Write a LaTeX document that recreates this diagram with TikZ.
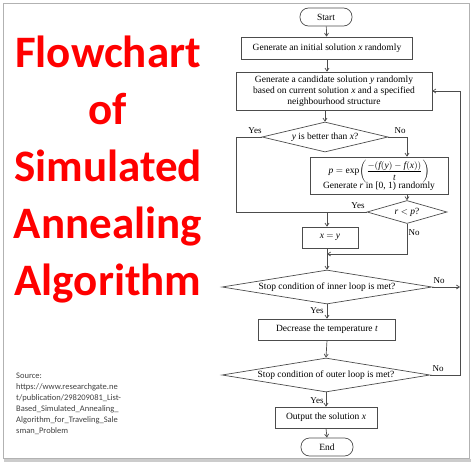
\documentclass[tikz,border=0pt]{standalone}
\usepackage{amsmath,amssymb}
\usepackage{fontspec}
\setmainfont{Liberation Serif}
\newfontfamily\calibri{Carlito}
\usepackage{xcolor}
\usetikzlibrary{shapes.geometric,arrows.meta}
\newcommand{\var}[1]{\textit{#1}}

\begin{document}
\begin{tikzpicture}[x=1pt,y=-1pt,every node/.style={font=\fontsize{9.5}{11}\selectfont},
  line/.style={draw=black!70,line width=0.7pt},
  arrow/.style={line,-{Straight Barb[length=3pt,width=4pt]}},
  box/.style={line,rectangle,inner sep=0pt,align=center},
  term/.style={line,rectangle,rounded corners=8.5pt,inner sep=0pt,minimum width=52pt,minimum height=18pt},
  decision/.style={line,diamond,inner sep=0pt},
  lbl/.style={font=\fontsize{9}{10}\selectfont,inner sep=1pt}]
\useasboundingbox (0,0) rectangle (474,463);
% frame
\draw[gray!60,line width=0.8pt] (3,3) rectangle (469,458);
\draw[gray!40,line width=3pt] (4,460.5) -- (471,460.5);
% title and source
\node[anchor=north,inner sep=0pt,align=center,text=red,
  font=\calibri\bfseries\fontsize{45}{57}\selectfont] (title) at (108,36)
  {Flowchart\\of\\Simulated\\Annealing\\Algorithm};
\node[anchor=north west,inner sep=0pt,align=left,text=black!75,
  font=\calibri\fontsize{8.5}{11}\selectfont] (source) at (16,373)
  {Source:\\https://www.researchgate.ne\\t/publication/298209081\_List-\\Based\_Simulated\_Annealing\_\\Algorithm\_for\_Traveling\_Sale\\sman\_Problem};

% flowchart nodes
\node[term] (start) at (326,17) {Start};
\node[box,minimum width=171pt,minimum height=22pt] (init) at (327,48) {Generate an initial solution \var{x} randomly};
\node[box,minimum width=196pt,minimum height=38pt] (cand) at (334,91)
  {Generate a candidate solution \var{y} randomly\\based on current solution \var{x} and a specified\\neighbourhood structure};
\node[decision,aspect=4.2,minimum width=126pt,minimum height=30pt] (better) at (325,137) {\var{y} is better than \var{x}?};
\node[box,minimum width=138pt,minimum height=37pt] (expbox) at (379,175.5)
  {$\var{p}=\exp\!\left(\dfrac{-(\var{f}(\var{y})-\var{f}(\var{x}))}{\var{t}}\right)$\\[-2pt]Generate \var{r} in [0, 1) randomly};
\node[decision,aspect=3.5,minimum width=80pt,minimum height=23pt] (rp) at (407,212) {\var{r} $<$ \var{p}?};
\node[box,minimum width=56pt,minimum height=21pt] (xy) at (330,237.5) {\var{x} $=$ \var{y}};
\node[decision,aspect=6.2,minimum width=210pt,minimum height=34pt] (inner) at (327,287) {Stop condition of inner loop is met?};
\node[box,minimum width=137pt,minimum height=21pt] (decr) at (327,329.5) {Decrease the temperature \var{t}};
\node[decision,aspect=6.2,minimum width=208pt,minimum height=34pt] (outer) at (326,375) {Stop condition of outer loop is met?};
\node[box,minimum width=102pt,minimum height=21pt] (output) at (326,417.5) {Output the solution \var{x}};
\node[term] (end) at (327,447) {End};

\coordinate (join) at (327,212);
\coordinate (back) at (327,254);
\coordinate (rail) at (460,0);

% connectors
\draw[arrow] (start) -- (init);
\draw[arrow] (init) -- (init.south |- cand.north);
\draw[arrow] (cand.south -| better.north) -- (better.north);
\draw[line] (better.west) -- ++(-25,0) |- (join);
\draw[line] (rp.west) -- (join);
\draw[arrow] (join) -- (join |- xy.north);
\draw[arrow] (better.east) -| (rp.north |- expbox.north);
\draw[arrow] (rp.north |- expbox.south) -- (rp.north);
\draw[arrow] (rp.south) |- (back);
\draw[arrow] (back |- xy.south) -- (inner.north);
\draw[arrow] (inner.east) -- (rail |- inner.east);
\draw[arrow] (inner.south) -- (decr.north);
\draw[arrow] (decr.south) -- (outer.north);
\draw[arrow] (outer.east) -| (rail |- cand.east) -- (cand.east);
\draw[arrow] (outer.south) -- (output.north);
\draw[arrow] (output.south) -- (end.north);

% labels
\node[lbl] (ybetter) at (255,131) {Yes};
\node[lbl] (nbetter) at (400,131) {No};
\node[lbl] (yrp) at (358,206) {Yes};
\node[lbl] (nrp) at (414,233) {No};
\node[lbl] (ninner) at (439,281) {No};
\node[lbl] (yinner) at (317,311) {Yes};
\node[lbl] (nouter) at (438,369) {No};
\node[lbl] (youter) at (317,401) {Yes};
\end{tikzpicture}
\end{document}
